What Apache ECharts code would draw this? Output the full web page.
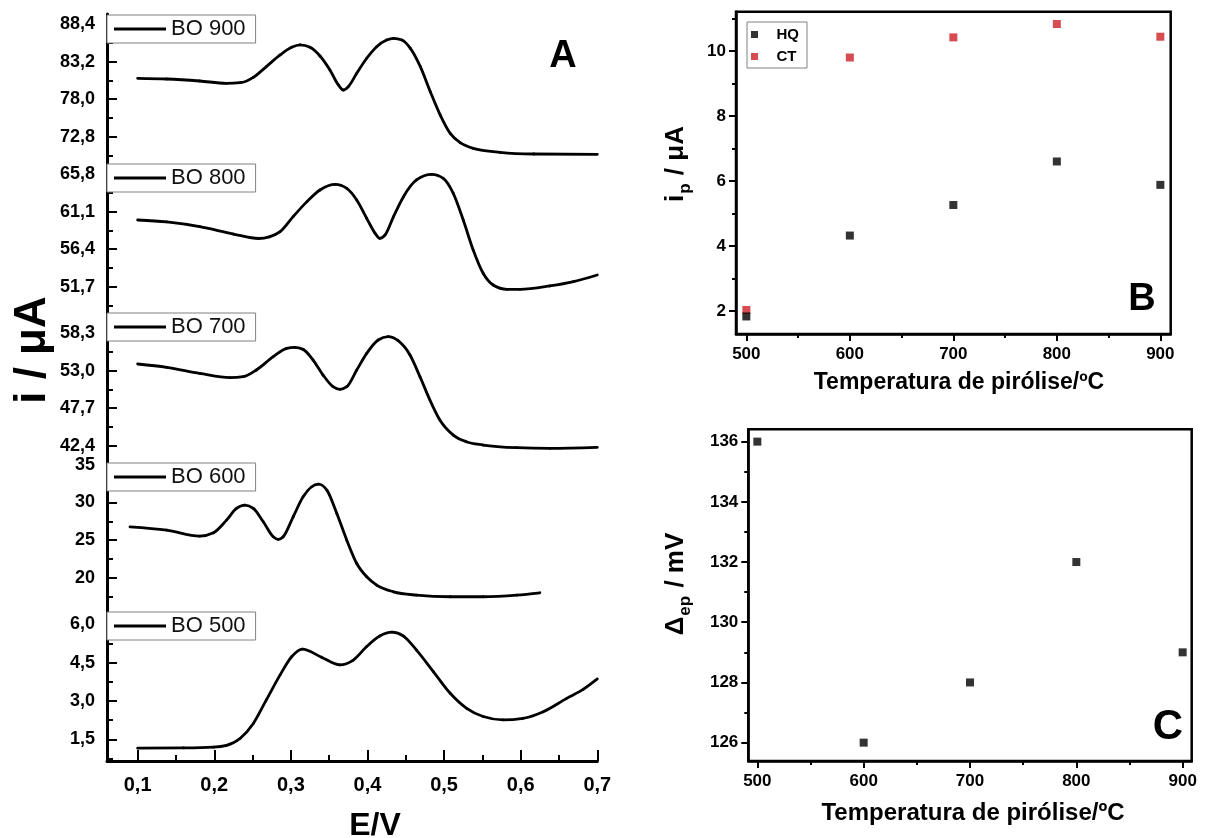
<!DOCTYPE html>
<html>
<head>
<meta charset="utf-8">
<script src="https://cdn.jsdelivr.net/npm/echarts@6/dist/echarts.min.js"></script>
<style>
  html, body { margin: 0; padding: 0; background: #fff; }
  #chart { width: 1208px; height: 838px; }
</style>
</head>
<body>
<div id="chart"></div>
<script>
const FONT = '"Liberation Sans", Arial, sans-serif';

// Voltammograms: [E / V, i / µA] for each pyrolysis temperature
const bo900 = [[0.100,80.89],[0.138,80.80],[0.181,80.52],[0.216,80.20],[0.234,80.29],[0.251,81.03],[0.268,82.51],[0.286,84.13],[0.301,85.19],[0.312,85.52],[0.325,85.19],[0.338,83.99],[0.351,82.05],[0.362,79.97],[0.3685,79.27],[0.375,79.74],[0.386,81.59],[0.399,83.67],[0.412,85.28],[0.425,86.21],[0.434,86.44],[0.445,86.21],[0.456,85.05],[0.469,82.51],[0.482,79.04],[0.495,75.80],[0.508,73.26],[0.521,71.97],[0.538,71.18],[0.573,70.63],[0.617,70.40],[0.700,70.35]];
const bo800 = [[0.100,60.06],[0.138,59.81],[0.181,59.22],[0.225,58.30],[0.258,57.74],[0.272,57.95],[0.286,58.59],[0.303,60.48],[0.321,62.36],[0.338,63.82],[0.358,64.53],[0.373,64.03],[0.386,62.57],[0.399,60.27],[0.410,58.39],[0.416,57.76],[0.423,58.18],[0.434,60.48],[0.447,62.98],[0.464,65.07],[0.484,65.78],[0.499,65.28],[0.512,63.40],[0.525,60.06],[0.538,56.30],[0.551,53.38],[0.564,51.91],[0.582,51.37],[0.599,51.37],[0.638,51.79],[0.669,52.33],[0.700,53.17]];
const bo700 = [[0.100,53.95],[0.138,53.48],[0.181,52.63],[0.2205,52.02],[0.238,52.16],[0.255,53.10],[0.277,54.98],[0.2945,56.16],[0.305,56.30],[0.316,56.02],[0.329,54.51],[0.342,52.39],[0.355,50.74],[0.364,50.37],[0.373,50.74],[0.386,53.10],[0.399,55.45],[0.414,57.34],[0.427,57.81],[0.440,57.24],[0.4555,55.22],[0.4685,52.16],[0.4815,48.86],[0.4945,46.03],[0.512,43.91],[0.529,42.97],[0.551,42.50],[0.595,42.12],[0.638,42.03],[0.700,42.17]];
const bo600 = [[0.090,26.76],[0.138,26.32],[0.181,25.52],[0.199,25.97],[0.216,27.65],[0.229,29.20],[0.240,29.64],[0.251,29.20],[0.264,27.43],[0.277,25.44],[0.2835,25.08],[0.290,25.44],[0.303,28.09],[0.316,30.75],[0.336,32.43],[0.347,31.63],[0.360,28.53],[0.373,24.99],[0.386,21.89],[0.399,20.12],[0.412,19.02],[0.434,18.13],[0.464,17.69],[0.508,17.47],[0.551,17.47],[0.595,17.69],[0.625,18.00]];
const bo500 = [[0.100,1.15],[0.160,1.16],[0.199,1.19],[0.216,1.26],[0.234,1.54],[0.251,2.12],[0.268,3.04],[0.286,4.02],[0.301,4.73],[0.315,5.03],[0.340,4.71],[0.364,4.41],[0.3815,4.60],[0.399,5.13],[0.416,5.54],[0.432,5.69],[0.447,5.54],[0.464,4.99],[0.486,4.15],[0.508,3.30],[0.5295,2.71],[0.551,2.39],[0.577,2.26],[0.603,2.32],[0.6295,2.58],[0.660,3.10],[0.682,3.46],[0.700,3.86]];
const traceNames = ['BO 900', 'BO 800', 'BO 700', 'BO 600', 'BO 500'];

// current axis ticks of each trace: labelled and minor
const ticks900 = [72.8, 78.0, 83.2, 88.4];
const minor900 = [70.2, 75.4, 80.6, 85.8];
const ticks800 = [51.7, 56.4, 61.1, 65.8];
const minor800 = [49.35, 54.05, 58.75, 63.45];
const ticks700 = [42.4, 47.7, 53.0, 58.3];
const minor700 = [45.05, 50.35, 55.65, 60.95];
const ticks600 = [20, 25, 30, 35];
const minor600 = [17.5, 22.5, 27.5, 32.5];
const ticks500 = [1.5, 3.0, 4.5, 6.0];
const minor500 = [0.75, 2.25, 3.75, 5.25];
const potentialTicks = [0.1, 0.2, 0.3, 0.4, 0.5, 0.6, 0.7];
const potentialMinor = [0.15, 0.25, 0.35, 0.45, 0.55, 0.65];

// Peak currents and peak separation against pyrolysis temperature
const temperatures = [500, 600, 700, 800, 900];
const ipHQ = [1.83, 4.32, 5.26, 6.60, 5.88];
const ipCT = [2.03, 9.80, 10.42, 10.83, 10.44];
const deltaEp = [136, 126, 128, 132, 129];
const tempTicks = [500, 600, 700, 800, 900];
const tempMinor = [550, 650, 750, 850];
const ipTicks = [2, 4, 6, 8, 10];
const ipMinor = [3, 5, 7, 9, 11];
const epTicks = [126, 128, 130, 132, 134, 136];
const epMinor = [127, 129, 131, 133, 135];

const comma1 = v => v.toFixed(1).replace('.', ',');
const commaInt = v => String(Math.round(v));

// ---- layout ----
const stackLeft = 107, stackWidth = 490.3;
const stackRows = [
  { top: 14,  height: 149, min: 69.15, max: 89.81, ticks: ticks900, minor: minor900, fmt: comma1 },
  { top: 163, height: 149, min: 48.53, max: 67.20, ticks: ticks800, minor: minor800, fmt: comma1 },
  { top: 312, height: 150, min: 40.10, max: 61.30, ticks: ticks700, minor: minor700, fmt: comma1 },
  { top: 462, height: 149, min: 15.58, max: 35.37, ticks: ticks600, minor: minor600, fmt: commaInt },
  { top: 611, height: 150, min: 0.65,  max: 6.52,  ticks: ticks500, minor: minor500, fmt: comma1 }
];
const traces = [bo900, bo800, bo700, bo600, bo500];

// Monotone cubic tangents (Fritsch–Carlson style) for points in pixel space
function tangents(pts) {
  const n = pts.length, t = new Array(n).fill(0);
  for (let i = 1; i < n - 1; i++) {
    const h0 = pts[i][0] - pts[i - 1][0], h1 = pts[i + 1][0] - pts[i][0];
    const s0 = (pts[i][1] - pts[i - 1][1]) / h0, s1 = (pts[i + 1][1] - pts[i][1]) / h1;
    const p = (s0 * h1 + s1 * h0) / (h0 + h1);
    t[i] = (Math.sign(s0) + Math.sign(s1)) * Math.min(Math.abs(s0), Math.abs(s1), 0.5 * Math.abs(p)) || 0;
  }
  const h = pts[1][0] - pts[0][0];
  t[0] = (3 * (pts[1][1] - pts[0][1]) / h - t[1]) / 2;
  const hn = pts[n - 1][0] - pts[n - 2][0];
  t[n - 1] = (3 * (pts[n - 1][1] - pts[n - 2][1]) / hn - t[n - 2]) / 2;
  return t;
}

// each data item draws the curve piece from itself to the next measured point
function traceRenderer(trace) {
  return function (params, api) {
    const i = params.dataIndex;
    if (i >= trace.length - 1) return null;
    const pts = trace.map(p => api.coord(p));
    const t = tangents(pts);
    const a = pts[i], b = pts[i + 1], h = (b[0] - a[0]) / 3;
    return {
      type: 'bezierCurve', silent: true,
      shape: { x1: a[0], y1: a[1], x2: b[0], y2: b[1],
               cpx1: a[0] + h, cpy1: a[1] + h * t[i], cpx2: b[0] - h, cpy2: b[1] - h * t[i + 1] },
      style: { stroke: '#000', fill: 'none', lineWidth: 2.8, lineCap: 'round' }
    };
  };
}

function axis(o) {
  return {
    type: 'value', gridIndex: o.grid, min: o.min, max: o.max, position: o.position,
    silent: true,
    axisLine: { show: o.line !== false, onZero: false, lineStyle: { color: '#000', width: o.lineWidth || 3 } },
    axisTick: { show: true, inside: !!o.inside, length: o.tickLen, customValues: o.ticks,
                lineStyle: { color: '#000', width: 2 } },
    axisLabel: o.fmt ? { show: true, customValues: o.ticks, formatter: o.fmt, margin: o.margin,
                         color: '#000', fontSize: o.fontSize, fontWeight: 'bold', fontFamily: FONT }
                     : { show: false },
    splitLine: { show: false },
    minorTick: { show: false }
  };
}

const grids = [], xAxes = [], yAxes = [], series = [], legends = [];

stackRows.forEach((r, i) => {
  grids.push({ left: stackLeft, top: r.top, width: stackWidth, height: r.height, containLabel: false });
  const last = i === stackRows.length - 1;
  if (last) {
    xAxes.push(axis({ grid: i, min: 0.06, max: 0.70, position: 'bottom', inside: true, tickLen: 11,
                      ticks: potentialTicks, fmt: comma1, margin: 14, fontSize: 20 }));
  } else {
    xAxes.push({ type: 'value', gridIndex: i, min: 0.06, max: 0.70, show: false });
  }
  yAxes.push(axis({ grid: i, min: r.min, max: r.max, position: 'left', inside: true, tickLen: 10,
                    ticks: r.ticks, fmt: r.fmt, margin: 12, fontSize: 18 }));
  series.push({
    name: traceNames[i], type: 'custom', xAxisIndex: i, yAxisIndex: i,
    data: traces[i], encode: { x: 0, y: 1 }, renderItem: traceRenderer(traces[i]),
    silent: true, itemStyle: { color: '#000' }, z: 3
  });
  legends.push({
    data: [traceNames[i]], left: stackLeft, top: r.top + 1, orient: 'horizontal',
    icon: 'rect', itemWidth: 52, itemHeight: 3, selectedMode: false,
    itemStyle: { color: '#000' },
    padding: [3, 10, 3, 7], backgroundColor: '#fff', borderColor: '#808080', borderWidth: 1,
    textStyle: { fontSize: 22, color: '#111', fontFamily: FONT }
  });
});
// minor ticks of the stacked panel
stackRows.forEach((r, i) => {
  yAxes.push(axis({ grid: i, min: r.min, max: r.max, position: 'left', inside: true, tickLen: 6,
                    ticks: r.minor, line: false }));
});
xAxes.push(axis({ grid: 4, min: 0.06, max: 0.70, position: 'bottom', inside: true, tickLen: 6,
                  ticks: potentialMinor, line: false }));

// panel B (grid 5) and panel C (grid 6)
grids.push({ left: 736, top: 11.7, width: 434.7, height: 322.3, show: true, borderColor: '#000', borderWidth: 2.5, backgroundColor: 'transparent' });
grids.push({ left: 748.3, top: 429.3, width: 443.4, height: 331.7, show: true, borderColor: '#000', borderWidth: 2.5, backgroundColor: 'transparent' });

const bX = xAxes.length;
xAxes.push(axis({ grid: 5, min: 490, max: 910, position: 'bottom', tickLen: 7, ticks: tempTicks, fmt: commaInt, margin: 12, fontSize: 17, lineWidth: 2.5 }));
xAxes.push(axis({ grid: 5, min: 490, max: 910, position: 'bottom', tickLen: 4, ticks: tempMinor, line: false }));
const cX = xAxes.length;
xAxes.push(axis({ grid: 6, min: 491.5, max: 908.5, position: 'bottom', tickLen: 7, ticks: tempTicks, fmt: commaInt, margin: 12, fontSize: 17, lineWidth: 2.5 }));
xAxes.push(axis({ grid: 6, min: 491.5, max: 908.5, position: 'bottom', tickLen: 4, ticks: tempMinor, line: false }));

const bY = yAxes.length;
yAxes.push(axis({ grid: 5, min: 1.29, max: 11.21, position: 'left', tickLen: 7, ticks: ipTicks, fmt: commaInt, margin: 10, fontSize: 17, lineWidth: 2.5 }));
yAxes.push(axis({ grid: 5, min: 1.29, max: 11.21, position: 'left', tickLen: 4, ticks: ipMinor, line: false }));
const cY = yAxes.length;
yAxes.push(axis({ grid: 6, min: 125.39, max: 136.41, position: 'left', tickLen: 7, ticks: epTicks, fmt: commaInt, margin: 10, fontSize: 17, lineWidth: 2.5 }));
yAxes.push(axis({ grid: 6, min: 125.39, max: 136.41, position: 'left', tickLen: 4, ticks: epMinor, line: false }));

series.push({
  name: 'CT', type: 'scatter', xAxisIndex: bX, yAxisIndex: bY, symbol: 'rect', symbolSize: 8, silent: true,
  itemStyle: { color: '#cc1f26' }, z: 2,
  data: temperatures.map((t, i) => [t, ipCT[i]])
});
series.push({
  name: 'HQ', type: 'scatter', xAxisIndex: bX, yAxisIndex: bY, symbol: 'rect', symbolSize: 8, silent: true,
  itemStyle: { color: '#000' }, z: 3,
  data: temperatures.map((t, i) => [t, ipHQ[i]])
});
series.push({
  name: 'ΔEp', type: 'scatter', xAxisIndex: cX, yAxisIndex: cY, symbol: 'rect', symbolSize: 8, silent: true,
  itemStyle: { color: '#000' }, z: 3,
  data: temperatures.map((t, i) => [t, deltaEp[i]])
});
legends.push({
  data: ['HQ', 'CT'], left: 747, top: 22, orient: 'vertical', selectedMode: false,
  icon: 'path://M0,0H10V10H0Z', itemWidth: 34, itemHeight: 7, itemGap: 7,
  padding: [5, 8, 4, 4], backgroundColor: '#fff', borderColor: '#808080', borderWidth: 1,
  textStyle: { fontSize: 15, fontWeight: 'bold', color: '#000', fontFamily: FONT }
});

function label(text, x, y, size, extra) {
  return Object.assign({
    type: 'text', x: x, y: y, silent: true, z: 10,
    style: { text: text, fill: '#000', font: 'bold ' + size + 'px ' + FONT,
             align: 'center', verticalAlign: 'middle', textAlign: 'center', textVerticalAlign: 'middle' }
  }, extra || {});
}
function subTitle(main, sub, rest, x, y) {
  return {
    type: 'text', x: x, y: y, rotation: Math.PI / 2, silent: true, z: 10,
    style: {
      text: '{m|' + main + '}{s|' + sub + '}{m|' + rest + '}',
      align: 'center', verticalAlign: 'middle', textAlign: 'center', textVerticalAlign: 'middle',
      rich: {
        m: { fontSize: 26, fontWeight: 'bold', fontFamily: FONT, fill: '#000', color: '#000', lineHeight: 30 },
        s: { fontSize: 17, fontWeight: 'bold', fontFamily: FONT, fill: '#000', color: '#000', lineHeight: 17, padding: [19, 1, 0, 1] }
      }
    }
  };
}

const graphics = [
  label('i / μA', 33, 350, 44, { rotation: Math.PI / 2 }),
  label('E/V', 375, 826, 32),
  label('A', 563, 57, 38),
  label('B', 1142, 300, 38),
  label('C', 1168, 727, 42),
  label('Temperatura de pirólise/ºC', 959, 383, 23),
  label('Temperatura de pirólise/ºC', 973, 813, 24),
  subTitle('i', 'p', ' / μA', 676, 164),
  subTitle('Δ', 'ep', ' / mV', 676, 584)
];

const chart = echarts.init(document.getElementById('chart'), null, { renderer: 'canvas' });
chart.setOption({
  animation: false,
  backgroundColor: '#fff',
  textStyle: { fontFamily: FONT },
  grid: grids,
  xAxis: xAxes,
  yAxis: yAxes,
  legend: legends,
  series: series,
  graphic: graphics
});
</script>
</body>
</html>
